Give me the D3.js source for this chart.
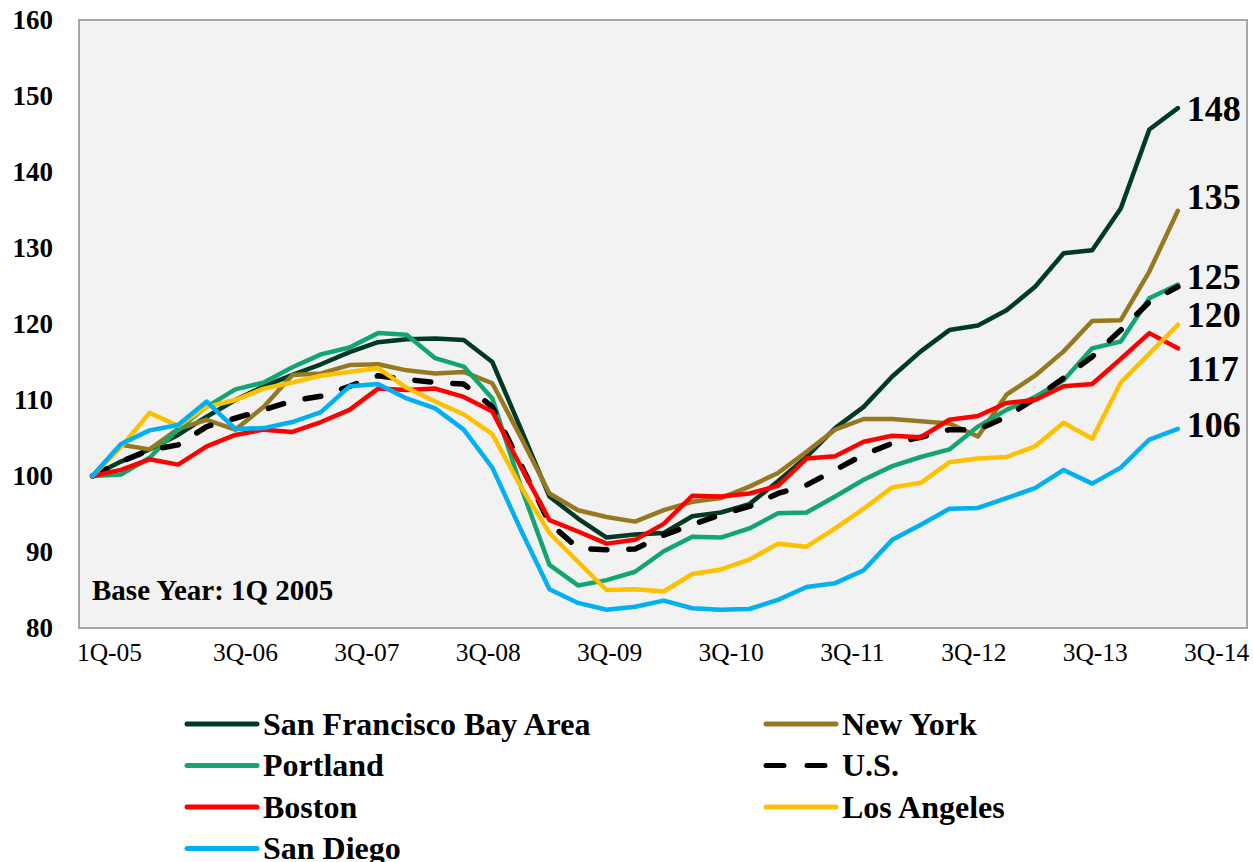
<!DOCTYPE html>
<html>
<head>
<meta charset="utf-8">
<script src="https://cdn.jsdelivr.net/npm/d3@7"></script>
<style>
  body { margin: 0; background: #fff; }
  svg text { font-family: "Times New Roman", "Liberation Serif", serif; }
</style>
</head>
<body>
<div id="chart"></div>
<script>
var width = 1253, height = 862;
var plot = {left: 79, right: 1247, top: 20, bottom: 628};

// quarter index 0 = 1Q-05 ... 38 = 3Q-14
var tickLabels = ["1Q-05", "3Q-06", "3Q-07", "3Q-08", "3Q-09", "3Q-10", "3Q-11", "3Q-12", "3Q-13", "3Q-14"];
var tickAt = [0.58, 5.34, 9.59, 13.84, 18.09, 22.34, 26.59, 30.84, 35.09, 39.34];
var yTicks = [80, 90, 100, 110, 120, 130, 140, 150, 160];

var sfBay = [100, 101.9, 103.5, 105.4, 107.8, 110, 111.8, 113.3, 114.7, 116.3, 117.6, 118, 118.1, 117.9, 115,
  106.2, 97.3, 94.4, 91.9, 92.3, 92.5, 94.7, 95.2, 96.3, 99.3, 102.5, 106.3, 109.1, 113.1, 116.4, 119.2, 119.8,
  121.8, 124.9, 129.3, 129.7, 135.2, 145.6, 148.4];
var newYork = [100, 104.1, 103.5, 106.2, 107.4, 106.1, 109.1, 113.3, 113.5, 114.6, 114.7, 113.9, 113.5, 113.7, 112.2,
  105.1, 97.7, 95.5, 94.6, 94, 95.5, 96.6, 97.1, 98.6, 100.4, 103.2, 106.1, 107.5, 107.5, 107.2, 106.9, 105.2,
  110.7, 113.2, 116.4, 120.4, 120.5, 126.9, 134.9];
var portland = [100, 100.2, 102.4, 106.2, 109.1, 111.4, 112.3, 114.3, 116, 116.9, 118.8, 118.6, 115.5, 114.4, 110.2,
  98.6, 88.3, 85.6, 86.3, 87.4, 90.1, 92, 91.9, 93.1, 95.1, 95.2, 97.3, 99.5, 101.3, 102.5, 103.5, 106.5,
  108.7, 110.4, 112.6, 116.8, 117.7, 123.4, 125.2];
var us = [100, 101.9, 103.4, 104.1, 106.5, 107.6, 108.7, 109.9, 110.5, 111.8, 113.2, 112.7, 112.3, 112.1, 109.1,
  101.5, 93.8, 90.5, 90.3, 90.4, 92.2, 93.6, 94.9, 96, 97.7, 98.8, 100.8, 102.8, 104.3, 105.1, 106.1, 106.1,
  107.8, 110.2, 112.9, 115.7, 119.2, 122.9, 124.9];
var boston = [100, 100.8, 102.2, 101.5, 103.9, 105.4, 106.1, 105.8, 107.1, 108.7, 111.5, 111.3, 111.5, 110.4, 108.5,
  101.2, 94.2, 92.7, 91.1, 91.6, 93.7, 97.4, 97.3, 97.7, 98.7, 102.3, 102.6, 104.5, 105.3, 105.1, 107.4, 107.9,
  109.6, 110, 111.8, 112.1, 115.4, 118.8, 116.8];
var losAngeles = [100, 103.8, 108.3, 106.6, 109.1, 110, 111.5, 112.3, 113.2, 113.7, 114.2, 111.6, 109.8, 108.1, 105.5,
  98.6, 92.5, 88.7, 85, 85.1, 84.8, 87.1, 87.7, 89, 91.1, 90.7, 93.1, 95.7, 98.5, 99.1, 101.8, 102.3,
  102.5, 103.9, 107, 104.9, 112.3, 116.1, 119.9];
var sanDiego = [100, 104.2, 106, 106.7, 109.8, 106.2, 106.3, 107.1, 108.4, 111.8, 112.1, 110.2, 108.9, 106.1, 101.1,
  92.9, 85.1, 83.3, 82.4, 82.8, 83.6, 82.6, 82.4, 82.5, 83.7, 85.4, 85.9, 87.6, 91.6, 93.6, 95.7, 95.8,
  97.1, 98.4, 100.8, 99, 101.1, 104.8, 106.2];

// excel order: legend reads row by row, later series on top
var series = [
  {name: "San Francisco Bay Area", values: sfBay, color: "#003a22", label: true, dy: 0},
  {name: "New York", values: newYork, color: "#957820", label: true, dy: -14},
  {name: "Portland", values: portland, color: "#12a571", label: true, dy: -8},
  {name: "U.S.", values: us, color: "#000000", dash: true, label: false, dy: 0},
  {name: "Boston", values: boston, color: "#ff0000", label: true, dy: 20},
  {name: "Los Angeles", values: losAngeles, color: "#ffc000", label: true, dy: -10},
  {name: "San Diego", values: sanDiego, color: "#00b0f0", label: true, dy: -4}
];

var x = d3.scaleLinear().domain([-0.47, 40.42]).range([plot.left, plot.right]);
var y = d3.scaleLinear().domain([80, 160]).range([plot.bottom, plot.top]);

var svg = d3.select("#chart").append("svg")
  .attr("width", width)
  .attr("height", height);

svg.append("rect")
  .attr("x", plot.left)
  .attr("y", plot.top)
  .attr("width", plot.right - plot.left)
  .attr("height", plot.bottom - plot.top)
  .attr("fill", "#f2f2f2")
  .attr("stroke", "#a6a6a6")
  .attr("stroke-width", 2);

// y labels
svg.append("g").selectAll("text")
  .data(yTicks).enter()
  .append("text")
  .attr("x", 53)
  .attr("y", function(d) { return y(d); })
  .attr("dy", "0.33em")
  .attr("text-anchor", "end")
  .attr("font-size", 27)
  .attr("font-weight", "bold")
  .text(function(d) { return d; });

// x labels
var xAxis = d3.axisBottom(x)
  .tickValues(tickAt)
  .tickSize(0)
  .tickPadding(15)
  .tickFormat(function(d, i) { return tickLabels[i]; });

var gx = svg.append("g")
  .attr("transform", "translate(0," + plot.bottom + ")")
  .call(xAxis);
gx.select(".domain").remove();
gx.selectAll("text")
  .attr("font-size", 25.5)
  .attr("font-family", "\"Times New Roman\", \"Liberation Serif\", serif")
  .attr("fill", "#000");

svg.append("text")
  .attr("x", 92)
  .attr("y", 600)
  .attr("font-size", 29)
  .attr("font-weight", "bold")
  .text("Base Year: 1Q 2005");

var line = d3.line()
  .x(function(d, i) { return x(i); })
  .y(function(d) { return y(d); });

svg.append("g").selectAll("path")
  .data(series).enter()
  .append("path")
  .attr("d", function(d) { return line(d.values); })
  .attr("fill", "none")
  .attr("stroke", function(d) { return d.color; })
  .attr("stroke-width", function(d) { return d.dash ? 5.5 : 4.5; })
  .attr("stroke-linejoin", "round")
  .attr("stroke-linecap", "round")
  .attr("stroke-dasharray", function(d) { return d.dash ? "16,22" : null; });

// end labels
svg.append("g").selectAll("text")
  .data(series.filter(function(d) { return d.label; })).enter()
  .append("text")
  .attr("x", x(38) + 9)
  .attr("y", function(d) { return y(d.values[d.values.length - 1]) + d.dy; })
  .attr("dy", "0.35em")
  .attr("font-size", 36)
  .attr("font-weight", "bold")
  .text(function(d) { return Math.round(d.values[d.values.length - 1]); });

// legend, two columns
var legend = svg.append("g").selectAll("g")
  .data(series).enter()
  .append("g")
  .attr("transform", function(d, i) {
    var col = i % 2, row = Math.floor(i / 2);
    return "translate(" + (187 + col * 579) + "," + (724 + row * 41.5) + ")";
  });

legend.append("line")
  .attr("x1", 0)
  .attr("x2", 70)
  .attr("stroke", function(d) { return d.color; })
  .attr("stroke-width", 5)
  .attr("stroke-linecap", "round")
  .attr("stroke-dasharray", function(d) { return d.dash ? "18,23" : null; });

legend.append("text")
  .attr("x", 76)
  .attr("dy", "0.33em")
  .attr("font-size", 32)
  .attr("font-weight", "bold")
  .text(function(d) { return d.name; });
</script>
</body>
</html>
